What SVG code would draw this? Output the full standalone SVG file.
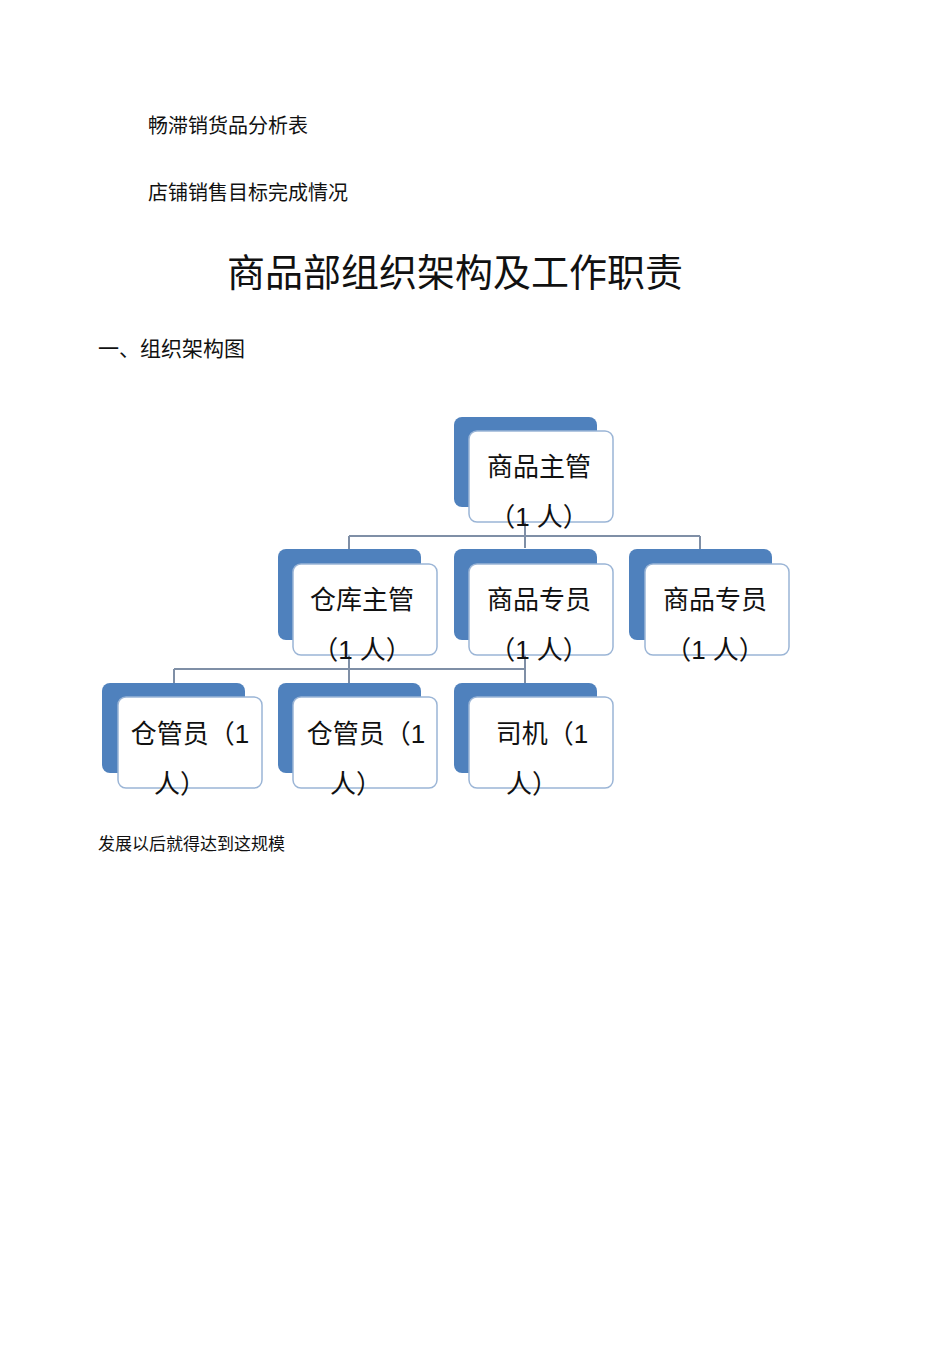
<svg xmlns="http://www.w3.org/2000/svg" width="950" height="1345" viewBox="0 0 950 1345">
<style>
text{font-family:"Liberation Sans","Noto Sans CJK SC",sans-serif;fill:#111}
.b{fill:#4f81bd}
.w{fill:#fff;stroke:#9bb5d6;stroke-width:1.5}
.n{font-size:26px;text-anchor:middle}
.c{stroke:#7f8fa6;stroke-width:2;fill:none}
</style>
<rect width="950" height="1345" fill="#fff"/>
<text x="148" y="133" font-size="20">畅滞销货品分析表</text>
<text x="148" y="200" font-size="20">店铺销售目标完成情况</text>
<text x="455" y="286" font-size="38" text-anchor="middle">商品部组织架构及工作职责</text>
<text x="98" y="356" font-size="21">一、组织架构图</text>
<g id="connectors">
<path class="c" d="M525 522V548M349 536H700M349 536V549M700 536V549"/>
<path class="c" d="M174 669H525M174 669V683M349 655V683M525 655V683"/>
</g>
<g id="n1"><rect class="b" x="454" y="417" width="143" height="90" rx="8"/><rect class="w" x="469" y="431" width="144" height="91" rx="8"/><text class="n" x="539" y="476">商品主管</text><text class="n" x="539" y="526">（1 人）</text></g>
<g id="n2"><rect class="b" x="278" y="549" width="143" height="91" rx="8"/><rect class="w" x="293" y="564" width="144" height="91" rx="8"/><text class="n" x="362" y="609">仓库主管</text><text class="n" x="362" y="659">（1 人）</text></g>
<g id="n3"><rect class="b" x="454" y="549" width="143" height="91" rx="8"/><rect class="w" x="469" y="564" width="144" height="91" rx="8"/><text class="n" x="539" y="609">商品专员</text><text class="n" x="539" y="659">（1 人）</text></g>
<g id="n4"><rect class="b" x="629" y="549" width="143" height="91" rx="8"/><rect class="w" x="645" y="564" width="144" height="91" rx="8"/><text class="n" x="715" y="609">商品专员</text><text class="n" x="715" y="659">（1 人）</text></g>
<g id="n5"><rect class="b" x="102" y="683" width="143" height="90" rx="8"/><rect class="w" x="118" y="697" width="144" height="91" rx="8"/><text class="n" x="190" y="743">仓管员（1</text><text class="n" x="180" y="793">人）</text></g>
<g id="n6"><rect class="b" x="278" y="683" width="143" height="90" rx="8"/><rect class="w" x="293" y="697" width="144" height="91" rx="8"/><text class="n" x="366" y="743">仓管员（1</text><text class="n" x="356" y="793">人）</text></g>
<g id="n7"><rect class="b" x="454" y="683" width="143" height="90" rx="8"/><rect class="w" x="469" y="697" width="144" height="91" rx="8"/><text class="n" x="542" y="743">司机（1</text><text class="n" x="532" y="793">人）</text></g>
<text x="98" y="850" font-size="17">发展以后就得达到这规模</text>
</svg>
